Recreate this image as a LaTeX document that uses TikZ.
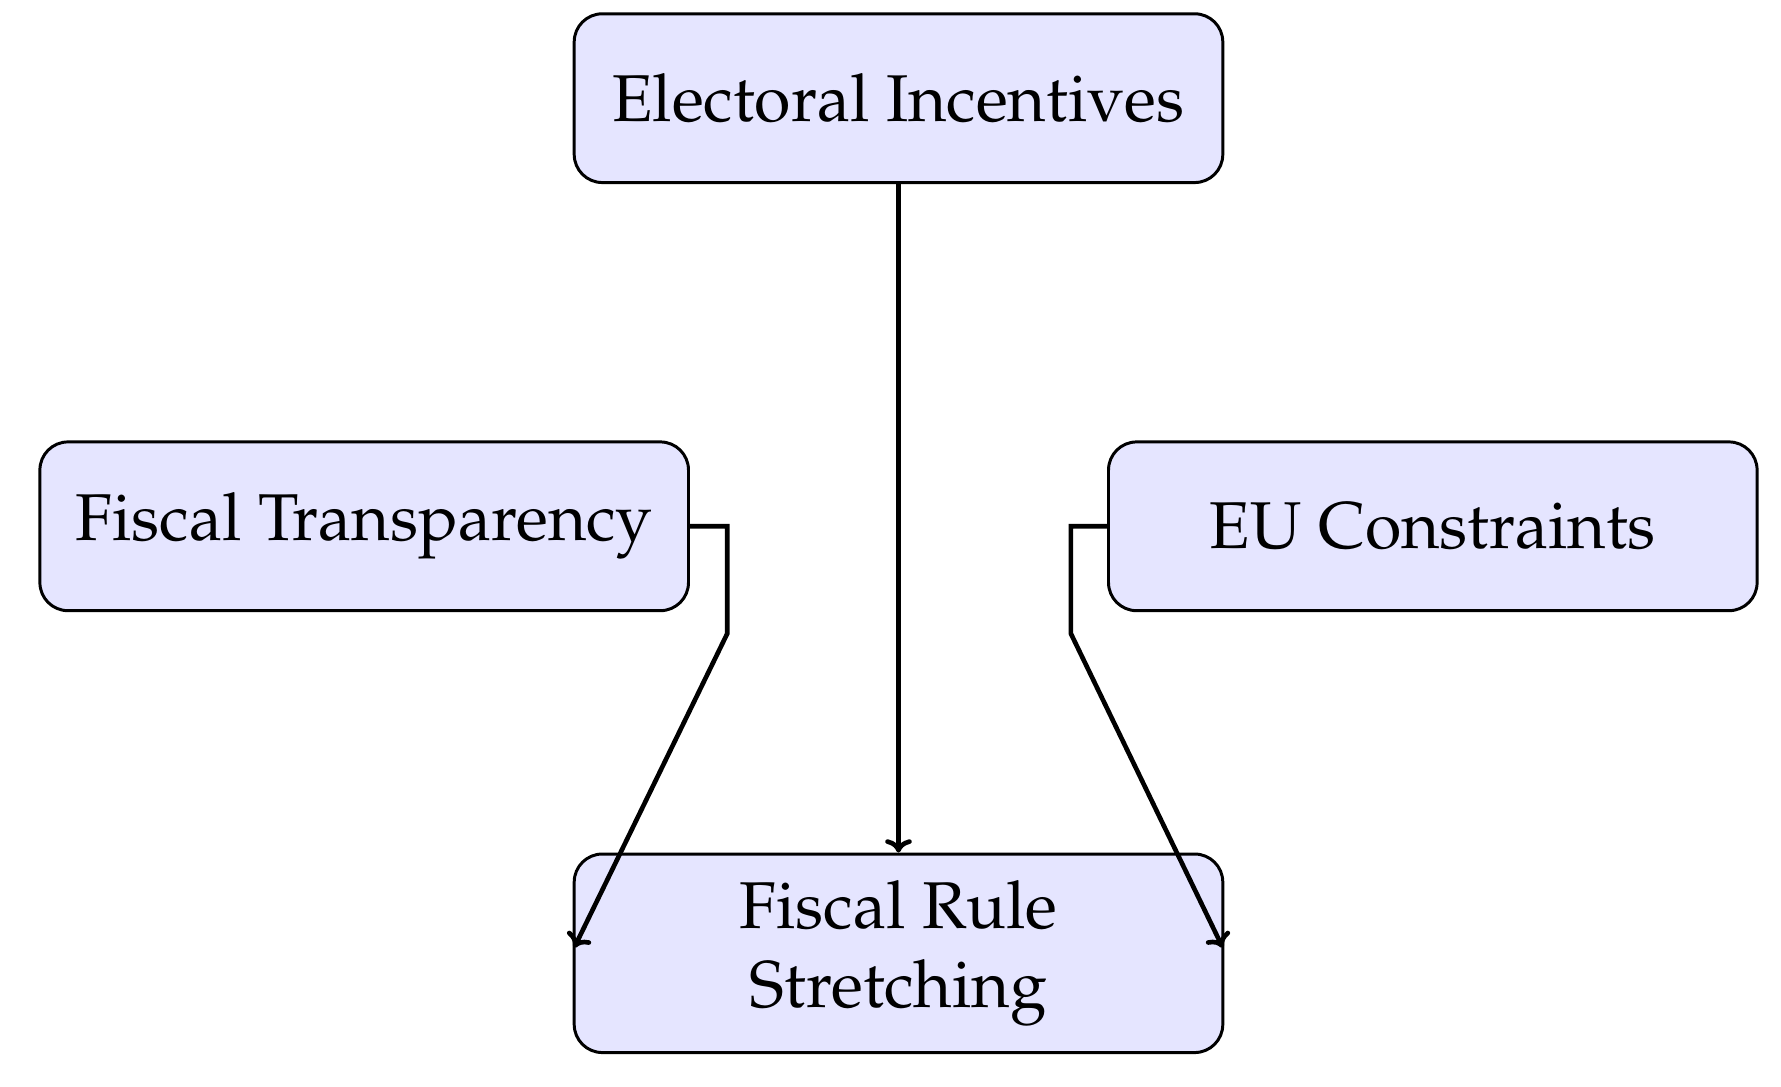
\documentclass[tikz,border=0pt]{standalone}
\usepackage[T1]{fontenc}
\usepackage{mathpazo}
\usetikzlibrary{arrows.meta}
\begin{document}
\begin{tikzpicture}[x=0.345pt,y=-0.345pt,
  box/.style={draw=black,line width=0.9pt,fill=blue!10,rounded corners=8.5pt,
    minimum width=196pt,minimum height=51pt,align=center,inner sep=0pt,
    font=\fontsize{20}{24}\selectfont},
  arr/.style={line width=1.4pt,-{To[length=4pt,width=8pt]}}]
\useasboundingbox (0,0) rectangle (1560,952);
\node[box] (ei) at (787,86) {Electoral Incentives};
\node[box] (ft) at (319,461) {Fiscal Transparency};
\node[box] (eu) at (1255,461) {EU Constraints};
\node[box,minimum height=60pt] (fr) at (787,835) {Fiscal Rule\\Stretching};
\coordinate (l1) at (637,461); \coordinate (l2) at (637,555); \coordinate (l3) at (503,830);
\coordinate (r1) at (938,461); \coordinate (r2) at (938,555); \coordinate (r3) at (1071,830);
\draw[arr] (ei) -- (fr);
\draw[arr] (ft.east) -- (l1) -- (l2) -- (l3);
\draw[arr] (eu.west) -- (r1) -- (r2) -- (r3);
\end{tikzpicture}
\end{document}
